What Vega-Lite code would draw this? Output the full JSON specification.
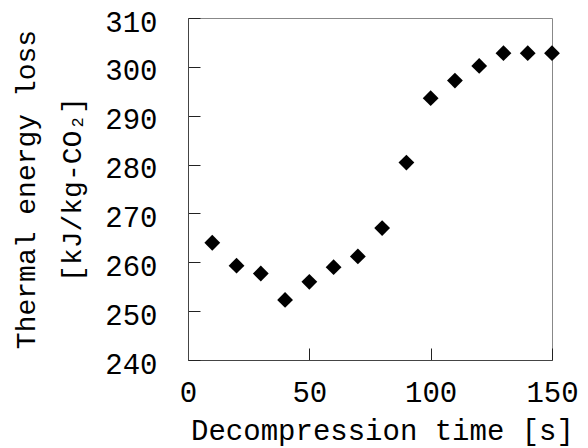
{
  "$schema": "https://vega.github.io/schema/vega-lite/v6.json",
  "autosize": {"type": "none"},
  "padding": {"left": 188, "top": 18, "right": 36, "bottom": 88},
  "width": 364,
  "height": 342,
  "background": "white",
  "config": {
    "view": {"stroke": "#888888", "strokeWidth": 1},
    "font": "Liberation Mono"
  },
  "data": {
    "values": [
      {"t": 10, "loss": 264.0},
      {"t": 20, "loss": 259.3},
      {"t": 30, "loss": 257.7},
      {"t": 40, "loss": 252.3},
      {"t": 50, "loss": 256.0},
      {"t": 60, "loss": 259.0},
      {"t": 70, "loss": 261.2},
      {"t": 80, "loss": 267.0},
      {"t": 90, "loss": 280.4},
      {"t": 100, "loss": 293.6},
      {"t": 110, "loss": 297.2},
      {"t": 120, "loss": 300.2},
      {"t": 130, "loss": 302.8},
      {"t": 140, "loss": 302.8},
      {"t": 150, "loss": 302.8}
    ]
  },
  "mark": {"type": "point", "shape": "diamond", "filled": true, "color": "black", "opacity": 1, "size": 250},
  "encoding": {
    "x": {
      "field": "t", "type": "quantitative",
      "scale": {"domain": [0, 150], "nice": false, "zero": false},
      "axis": {
        "values": [0, 50, 100, 150], "grid": false,
        "domainColor": "#444444", "tickColor": "#222222",
        "tickSize": -12, "labelPadding": 30,
        "labelFont": "Liberation Mono", "labelFontSize": 29, "labelColor": "black",
        "labelFlush": false, "labelBaseline": "top",
        "title": "Decompression time [s]",
        "titleFont": "Liberation Mono", "titleFontSize": 29, "titleFontWeight": "normal", "titleColor": "black",
        "titleX": 194, "titleY": 56, "titleBaseline": "top"
      }
    },
    "y": {
      "field": "loss", "type": "quantitative",
      "scale": {"domain": [240, 310], "nice": false, "zero": false},
      "axis": {
        "values": [240, 250, 260, 270, 280, 290, 300, 310], "grid": false,
        "domainColor": "#444444", "tickColor": "#222222",
        "tickSize": -12, "labelPadding": 43, "labelOffset": 4,
        "labelFont": "Liberation Mono", "labelFontSize": 29, "labelColor": "black",
        "labelFlush": false,
        "title": ["Thermal energy loss", "[kJ/kg-CO₂]"],
        "titleFont": "Liberation Mono", "titleFontSize": 28, "titleFontWeight": "normal", "titleColor": "black",
        "titleLineHeight": 46,
        "titleX": -148, "titleY": 171, "titleAngle": -90, "titleBaseline": "bottom", "titleAlign": "center"
      }
    }
  }
}
